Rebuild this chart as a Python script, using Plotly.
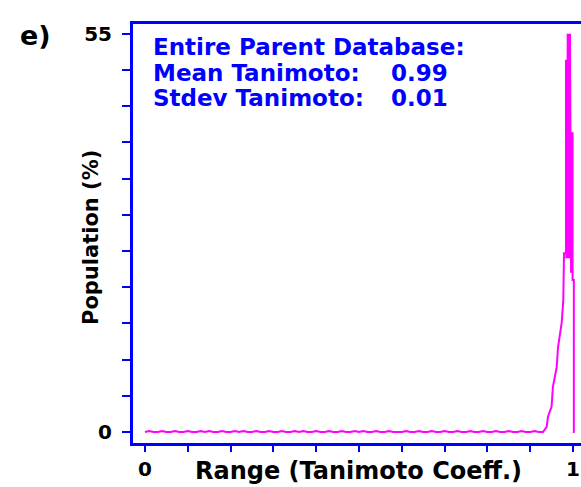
import plotly.graph_objects as go

# ---- data ----
# baseline region: x from 0.00 to 0.92 step 0.01, population (%) nearly zero
base_x = [round(i * 0.01, 2) for i in range(93)]
base_y = [0.0, 0.15, 0.0, 0.0, 0.15, 0.0, 0.0, 0.15, 0.0, 0.0,
          0.15, 0.0, 0.0, 0.15, 0.0, 0.15, 0.0, 0.0, 0.15, 0.0,
          0.0, 0.15, 0.0, 0.15, 0.0, 0.0, 0.15, 0.0, 0.0, 0.15,
          0.0, 0.0, 0.15, 0.0, 0.0, 0.15, 0.0, 0.15, 0.0, 0.0,
          0.15, 0.0, 0.0, 0.15, 0.0, 0.0, 0.15, 0.0, 0.0, 0.15,
          0.0, 0.15, 0.0, 0.0, 0.15, 0.0, 0.0, 0.15, 0.0, 0.0,
          0.0, 0.15, 0.0, 0.0, 0.15, 0.0, 0.0, 0.15, 0.0, 0.0,
          0.15, 0.0, 0.0, 0.15, 0.0, 0.0, 0.15, 0.0, 0.0, 0.15,
          0.0, 0.0, 0.15, 0.0, 0.0, 0.15, 0.0, 0.0, 0.15, 0.0,
          0.0, 0.15, 0.0]
# peak region
peak_x = [0.930, 0.9385, 0.9416, 0.950, 0.953, 0.962, 0.965, 0.970, 0.9736,
          0.9773, 0.979, 0.9836, 0.9836, 0.9845, 0.9855, 0.9865, 0.9876,
          0.9890, 0.9905, 0.9918, 0.9930, 0.9946, 0.9955, 0.9965, 0.9975,
          0.9990, 0.9990, 1.002, 1.002, 1.004]
peak_y = [0.0, 0.7, 2.1, 3.5, 6.2, 9.0, 11.7, 13.7, 15.1,
          18.2, 24.7, 24.7, 51.4, 24.0, 51.4, 24.0, 55.0,
          24.0, 55.0, 24.0, 55.0, 41.4, 22.0, 41.4, 22.0,
          41.4, 21.0, 21.0, 0.0, 0.0]

x_vals = base_x + peak_x
y_vals = base_y + peak_y

y_tickvals = [0, 5, 10, 15, 20, 25, 30, 35, 40, 45, 50, 55]
y_ticktext = ["0", "", "", "", "", "", "", "", "", "", "", "55"]
x_tickvals = [0, 0.1, 0.2, 0.3, 0.4, 0.5, 0.6, 0.7, 0.8, 0.9, 1.0]
x_ticktext = ["0", "", "", "", "", "", "", "", "", "", "1"]

panel_label = "e)"
info_lines = ["Entire Parent Database:", "Mean Tanimoto:", "Stdev Tanimoto:"]
info_values = ["", "0.99", "0.01"]
x_title = "Range (Tanimoto Coeff.)"
y_title = "Population (%)"

BLUE = "#0000ff"
MAG = "#ff00ff"
FONT = "DejaVu Sans"

W, H = 581, 487
L, R, T, B = 133, 0, 24, 44
pw, ph = W - L - R, H - T - B

def px(xp):
    return (xp - L) / pw

def py(yp):
    return (H - B - yp) / ph

fig = go.Figure()
fig.add_trace(go.Scatter(x=x_vals, y=y_vals, mode="lines",
                         line=dict(color=MAG, width=2), hoverinfo="skip"))

fig.update_layout(
    width=W, height=H, margin=dict(l=L, r=R, t=T, b=B),
    paper_bgcolor="white", plot_bgcolor="white", showlegend=False,
    xaxis=dict(range=[-0.028, 1.0187], showgrid=False, zeroline=False,
               showline=True, linecolor=BLUE, linewidth=2.5, mirror=True,
               ticks="outside", ticklen=6, tickwidth=2, tickcolor=BLUE,
               tickvals=x_tickvals, ticktext=x_ticktext,
               ticklabelstandoff=0,
               tickfont=dict(family=FONT, size=20, color="black", weight="bold")),
    yaxis=dict(range=[-1.52, 56.35], showgrid=False, zeroline=False,
               showline=True, linecolor=BLUE, linewidth=3, mirror=False,
               ticks="outside", ticklen=8, tickwidth=2, tickcolor=BLUE,
               tickvals=y_tickvals, ticktext=y_ticktext,
               ticklabelstandoff=6,
               tickfont=dict(family=FONT, size=20, color="black", weight="bold")),
)

ann = []
ann.append(dict(text=panel_label, x=px(18), y=py(35), xref="paper", yref="paper",
                xanchor="left", yanchor="middle", showarrow=False,
                font=dict(family=FONT, size=27, color="black", weight="bold")))
ann.append(dict(text=x_title, x=px(358), y=py(471), xref="paper", yref="paper",
                xanchor="center", yanchor="middle", showarrow=False,
                font=dict(family=FONT, size=24, color="black", weight="bold")))
ann.append(dict(text=y_title, x=px(91), y=py(238), xref="paper", yref="paper",
                xanchor="center", yanchor="middle", showarrow=False, textangle=-90,
                font=dict(family=FONT, size=21, color="black", weight="bold")))
line_y = [47, 73, 98]
for txt, val, yy in zip(info_lines, info_values, line_y):
    ann.append(dict(text=txt, x=px(151), y=py(yy), xref="paper", yref="paper",
                    xanchor="left", yanchor="middle", showarrow=False,
                    font=dict(family=FONT, size=23, color=BLUE, weight="bold")))
    if val:
        ann.append(dict(text=val, x=px(389), y=py(yy), xref="paper", yref="paper",
                        xanchor="left", yanchor="middle", showarrow=False,
                        font=dict(family=FONT, size=23, color=BLUE, weight="bold")))
fig.update_layout(annotations=ann)

fig.write_html("out.html")
